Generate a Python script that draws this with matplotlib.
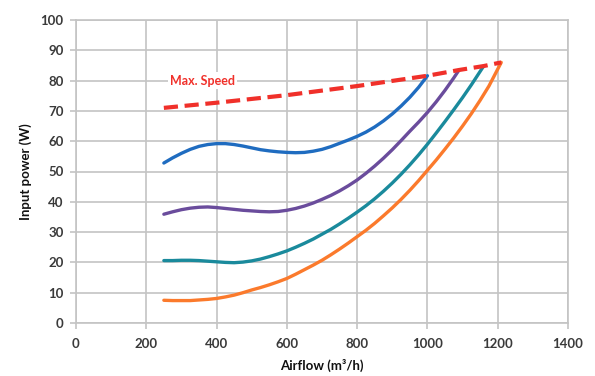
import matplotlib
matplotlib.use("Agg")
import matplotlib.pyplot as plt

# ---- data ----
blue_x = [250, 275, 300, 325, 350, 375, 400, 425, 450, 475, 500, 525, 550, 575, 600,
          625, 650, 675, 700, 725, 750, 775, 800, 825, 850, 875, 900, 925, 950, 975, 1000]
blue_y = [52.8, 54.5, 56.0, 57.3, 58.3, 58.9, 59.2, 59.2, 58.9, 58.4, 57.8, 57.2, 56.8, 56.5, 56.3,
          56.2, 56.3, 56.7, 57.3, 58.2, 59.3, 60.4, 61.6, 63.0, 64.7, 66.7, 69.0, 71.6, 74.5, 77.8, 81.6]

purple_x = [250, 275, 300, 325, 350, 375, 400, 425, 450, 475, 500, 525, 550, 575, 600,
            625, 650, 675, 700, 725, 750, 775, 800, 825, 850, 875, 900, 925, 950, 975, 1000,
            1025, 1050, 1075, 1090]
purple_y = [35.9, 36.7, 37.4, 37.9, 38.2, 38.3, 38.1, 37.8, 37.5, 37.2, 37.0, 36.8, 36.7, 36.8, 37.2,
            37.8, 38.6, 39.6, 40.8, 42.1, 43.6, 45.3, 47.2, 49.4, 51.8, 54.4, 57.2, 60.2, 63.3, 66.3, 69.5,
            73.0, 76.8, 80.9, 83.5]

teal_x = [250, 275, 300, 325, 350, 375, 400, 425, 450, 475, 500, 525, 550, 575, 600,
          625, 650, 675, 700, 725, 750, 775, 800, 825, 850, 875, 900, 925, 950, 975, 1000,
          1025, 1050, 1075, 1100, 1125, 1160]
teal_y = [20.6, 20.6, 20.7, 20.7, 20.6, 20.4, 20.2, 20.0, 19.9, 20.1, 20.5, 21.1, 21.9, 22.8, 23.8,
          25.0, 26.3, 27.7, 29.3, 30.9, 32.7, 34.6, 36.6, 38.7, 41.0, 43.5, 46.2, 49.1, 52.2, 55.5, 59.0,
          62.7, 66.5, 70.4, 74.4, 78.6, 84.8]

orange_x = [250, 275, 300, 325, 350, 375, 400, 425, 450, 475, 500, 525, 550, 575, 600,
            625, 650, 675, 700, 725, 750, 775, 800, 825, 850, 875, 900, 925, 950, 975, 1000,
            1025, 1050, 1075, 1100, 1125, 1150, 1175, 1210]
orange_y = [7.5, 7.4, 7.4, 7.4, 7.6, 7.8, 8.1, 8.6, 9.2, 10.0, 10.9, 11.7, 12.6, 13.6, 14.7,
            16.1, 17.6, 19.1, 20.7, 22.5, 24.4, 26.4, 28.5, 30.6, 32.9, 35.4, 38.0, 40.8, 43.8, 47.0, 50.4,
            53.8, 57.4, 61.1, 65.0, 69.1, 73.5, 78.2, 86.0]

maxspeed_x = [250, 400, 600, 800, 1000, 1090, 1160, 1210]
maxspeed_y = [71.0, 72.7, 75.2, 78.2, 81.6, 83.5, 84.8, 86.0]

x_ticks = [0, 200, 400, 600, 800, 1000, 1200, 1400]
y_ticks = [0, 10, 20, 30, 40, 50, 60, 70, 80, 90, 100]

# ---- figure ----
plt.rcParams['font.family'] = ['Lato', 'DejaVu Sans']
fig = plt.figure(figsize=(5.95, 3.76), dpi=100)
ax = fig.add_axes([76/595, 1-323/376, (568-76)/595, (323-20)/376])

grid_c = '#c4c4c4'
ax.set_xlim(0, 1400)
ax.set_ylim(0, 100)
ax.set_xticks(x_ticks)
ax.set_yticks(y_ticks)
ax.grid(True, color=grid_c, linewidth=1.2)
ax.set_axisbelow(True)
for s in ax.spines.values():
    s.set_color(grid_c)
    s.set_linewidth(1.2)
ax.tick_params(axis='both', colors=grid_c, length=4, width=1.2, labelcolor='#3a3a3a',
               labelsize=9.5)
for lab in ax.get_xticklabels() + ax.get_yticklabels():
    lab.set_fontweight('bold')
ax.tick_params(axis='x', pad=7)
ax.tick_params(axis='y', pad=5)

lw = 2.4
kw = dict(lw=lw, solid_capstyle='round', solid_joinstyle='round')
ax.plot(blue_x, blue_y, color='#1f6cc0', **kw)
ax.plot(purple_x, purple_y, color='#6a4c9c', **kw)
ax.plot(teal_x, teal_y, color='#1a8a9c', **kw)
ax.plot(orange_x, orange_y, color='#fb7a2c', **kw)
ax.plot(maxspeed_x, maxspeed_y, color='#f0302a', lw=3.0, dashes=(3.4, 1.6))

ax.text(360, 80, 'Max. Speed', color='#f0302a', fontsize=9, fontweight='bold',
        ha='center', va='center',
        bbox=dict(facecolor='white', edgecolor='none', pad=1.5))

ax.set_xlabel('Airflow (m\u00b3/h)', fontsize=9.5, fontweight='bold', color='#111111', labelpad=6)
ax.set_ylabel('Input power (W)', fontsize=9.5, fontweight='bold', color='#111111', labelpad=6)

fig.savefig('out.png', dpi=100)
